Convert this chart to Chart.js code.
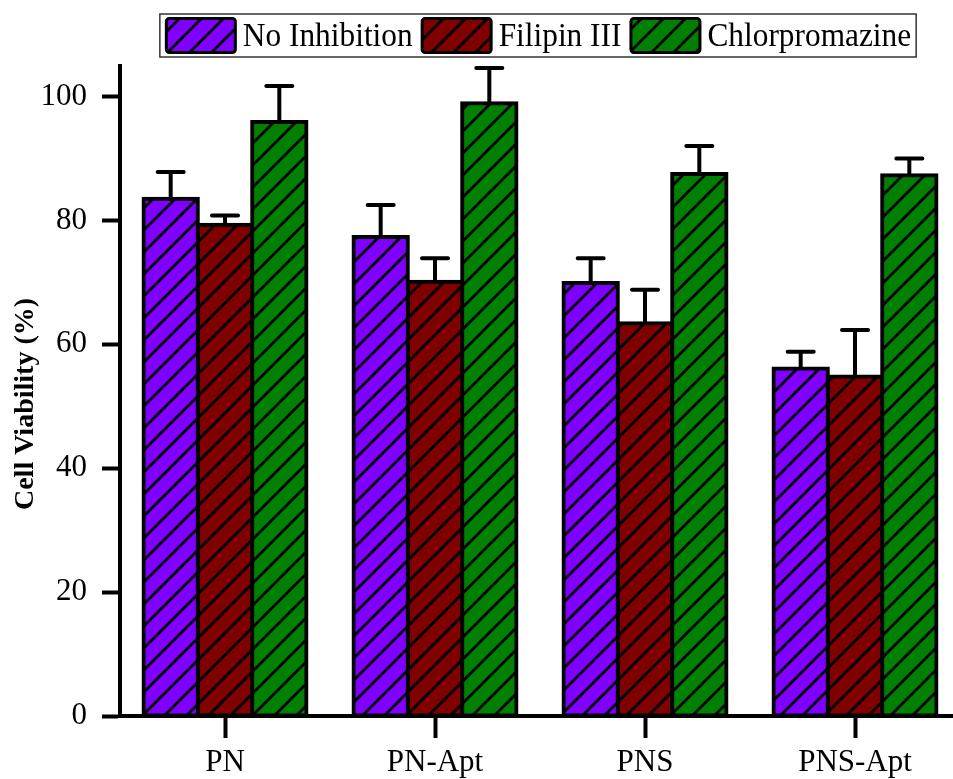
<!DOCTYPE html>
<html>
<head>
<meta charset="utf-8">
<script src="https://cdn.jsdelivr.net/npm/chart.js@4"></script>
<style>
  html, body { margin: 0; padding: 0; background: #fff; overflow: hidden; }
  #wrap { width: 960px; height: 779px; }
</style>
</head>
<body>
<div id="wrap"><canvas id="chart" width="960" height="779"></canvas></div>
<script>
// values
const categories = ["PN", "PN-Apt", "PNS", "PNS-Apt"];
const seriesNames = ["No Inhibition", "Filipin III", "Chlorpromazine"];
const noInhibition = [83.5, 77.3, 69.9, 56.1];
const noInhibitionErr = [4.3, 5.2, 4.0, 2.7];
const filipin = [79.3, 70.1, 63.4, 54.8];
const filipinErr = [1.5, 3.8, 5.4, 7.5];
const chlorpromazine = [95.9, 98.9, 87.5, 87.3];
const chlorpromazineErr = [5.8, 5.7, 4.5, 2.7];
const yTicks = [0, 20, 40, 60, 80, 100];
const colors = ["#8000ff", "#800000", "#008000"];

Chart.defaults.font.family = "'Liberation Serif', 'Times New Roman', serif";
Chart.defaults.color = "#000";

// diagonal hatch fill
function hatch(color) {
  const s = 22;
  const c = document.createElement("canvas");
  c.width = s; c.height = s;
  const g = c.getContext("2d");
  g.fillStyle = color;
  g.fillRect(0, 0, s, s);
  g.strokeStyle = "#000";
  g.lineWidth = 2.8;
  g.beginPath();
  g.moveTo(0, s); g.lineTo(s, 0);
  g.moveTo(-3, 3); g.lineTo(3, -3);
  g.moveTo(s - 3, s + 3); g.lineTo(s + 3, s - 3);
  g.stroke();
  return g.createPattern(c, "repeat");
}

const errorBars = {
  id: "errorBars",
  afterDatasetsDraw(chart) {
    const ctx = chart.ctx;
    const y = chart.scales.y;
    ctx.save();
    ctx.strokeStyle = "#000";
    ctx.lineWidth = 4;
    ctx.lineCap = "round";
    chart.data.datasets.forEach((ds, i) => {
      chart.getDatasetMeta(i).data.forEach((bar, j) => {
        const top = y.getPixelForValue(ds.data[j] + ds.errors[j]);
        ctx.beginPath();
        ctx.moveTo(bar.x, bar.y - 2);
        ctx.lineTo(bar.x, top);
        ctx.moveTo(bar.x - 13, top);
        ctx.lineTo(bar.x + 13, top);
        ctx.stroke();
      });
    });
    ctx.restore();
  }
};

const boxLegend = {
  id: "boxLegend",
  afterDraw(chart) {
    const ctx = chart.ctx;
    const sx = 0.95, sw = 72, sh = 37, gapText = 6, gapItem = 8;
    ctx.save();
    ctx.font = "33px 'Liberation Serif'";
    const items = chart.data.datasets;
    const widths = items.map(d => ctx.measureText(d.label).width * sx);
    const total = widths.reduce((a, b) => a + b, 0) + items.length * (sw + gapText) + (items.length - 1) * gapItem;
    let x = 538 - total / 2;
    ctx.strokeStyle = "#333";
    ctx.lineWidth = 1.5;
    ctx.strokeRect(x - 5, 14, total + 10, 43);
    items.forEach((d, i) => {
      ctx.beginPath();
      ctx.roundRect(x + 1.5, 18.5, sw - 3, sh - 3, 3);
      ctx.fillStyle = d.backgroundColor;
      ctx.fill();
      ctx.strokeStyle = "#000";
      ctx.lineWidth = 3;
      ctx.stroke();
      ctx.save();
      ctx.translate(x + sw + gapText, 46);
      ctx.scale(sx, 1);
      ctx.fillStyle = "#000";
      ctx.textBaseline = "alphabetic";
      ctx.fillText(d.label, 0, 0);
      ctx.restore();
      x += sw + gapText + widths[i] + gapItem;
    });
    // y axis title
    ctx.translate(26, 404);
    ctx.rotate(-Math.PI / 2);
    ctx.font = "bold 28px 'Liberation Serif'";
    ctx.textAlign = "center";
    ctx.textBaseline = "middle";
    ctx.fillStyle = "#000";
    ctx.fillText("Cell Viability (%)", 0, 0);
    ctx.restore();
  }
};

const values = [noInhibition, filipin, chlorpromazine];
const errs = [noInhibitionErr, filipinErr, chlorpromazineErr];

new Chart("chart", {
  type: "bar",
  data: {
    labels: categories,
    datasets: seriesNames.map((name, i) => ({
      label: name,
      data: values[i],
      errors: errs[i],
      backgroundColor: hatch(colors[i]),
      borderColor: "#000",
      borderWidth: 4,
      borderSkipped: false,
      inflateAmount: 2,
      categoryPercentage: 0.776,
      barPercentage: 1
    }))
  },
  options: {
    responsive: false,
    animation: false,
    layout: { padding: { top: 65.5, left: 0, right: 0, bottom: 0 } },
    plugins: {
      legend: { display: false },
      tooltip: { enabled: false }
    },
    scales: {
      x: {
        grid: { drawOnChartArea: false, offset: false, tickLength: 22, tickWidth: 4, tickColor: "#000" },
        border: { width: 4, color: "#000" },
        ticks: { font: { size: 31 }, padding: 6 },
        afterFit(s) { s.height = 63; }
      },
      y: {
        min: 0,
        max: 105,
        afterBuildTicks(s) { s.ticks = yTicks.map(v => ({ value: v })); },
        grid: { drawOnChartArea: false, tickLength: 18, tickWidth: 4, tickColor: "#000" },
        border: { width: 4, color: "#000" },
        ticks: { font: { size: 31 }, padding: 15 },
        afterFit(s) { s.width = 120; }
      }
    }
  },
  plugins: [errorBars, boxLegend]
});
</script>
</body>
</html>
